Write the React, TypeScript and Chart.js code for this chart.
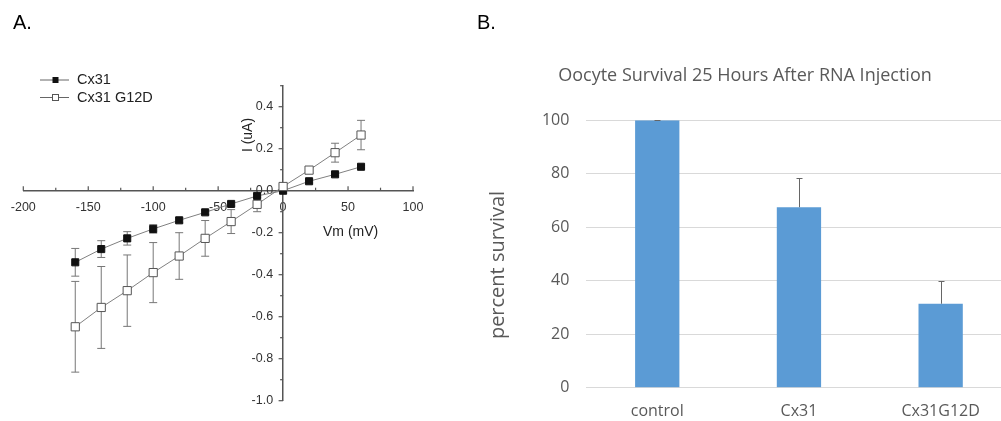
import React, { useEffect, useRef } from 'react';
import { Chart, registerables } from 'chart.js';

Chart.register(...registerables);

// ---------- Panel A data (I-V curves) ----------
const voltages = [-160, -140, -120, -100, -80, -60, -40, -20, 0, 20, 40, 60];
const cx31Current = [-0.341, -0.278, -0.227, -0.182, -0.141, -0.103, -0.063, -0.025, 0.0, 0.045, 0.078, 0.114];
const cx31Error = [0.066, 0.04, 0.032, 0.02, 0.012, 0.01, 0.01, 0.008, 0, 0.008, 0.006, 0.006];
const g12dCurrent = [-0.648, -0.556, -0.476, -0.39, -0.311, -0.227, -0.147, -0.065, 0.02, 0.098, 0.181, 0.265];
const g12dError = [0.216, 0.195, 0.17, 0.143, 0.111, 0.085, 0.057, 0.035, 0.01, 0.015, 0.045, 0.07];
const seriesNamesA = ['Cx31', 'Cx31 G12D'];

// ---------- Panel B data (survival) ----------
const groups = ['control', 'Cx31', 'Cx31G12D'];
const survival = [100, 67.5, 31.4];
const survivalError = [0, 10.8, 8.4];
const titleB = 'Oocyte Survival 25 Hours After RNA Injection';
const yTitleB = 'percent survival';

const fontA = '"Liberation Sans", Arial, sans-serif';
const fontB = '"Open Sans", sans-serif';

const yLabelA = (v: number) => {
  const r = Math.round(v * 10);
  return r % 2 === 0 ? (r / 10).toFixed(1) : '';
};

const panelAPlugin = {
  id: 'panelA',
  beforeDatasetsDraw(chart: any) {
    const { ctx, scales } = chart;
    const xs = scales.x;
    const ys = scales.y;
    const axisY = ys.getPixelForValue(0);
    const axisX = xs.getPixelForValue(0);
    ctx.save();
    ctx.strokeStyle = '#555';
    ctx.lineWidth = 1.2;
    // x tick marks (pointing up)
    xs.ticks.forEach((t: any) => {
      const px = xs.getPixelForValue(t.value);
      const major = Math.round(t.value) % 50 === 0;
      ctx.beginPath();
      ctx.moveTo(px, axisY);
      ctx.lineTo(px, axisY - (major ? 4.5 : 3));
      ctx.stroke();
    });
    // y tick marks (pointing left) and labels
    ctx.fillStyle = '#333';
    ctx.font = `12.5px ${fontA}`;
    ctx.textAlign = 'right';
    ctx.textBaseline = 'middle';
    ys.ticks.forEach((t: any) => {
      const py = ys.getPixelForValue(t.value);
      const major = Math.round(t.value * 10) % 2 === 0;
      ctx.beginPath();
      ctx.moveTo(axisX, py);
      ctx.lineTo(axisX - (major ? 4.5 : 3), py);
      ctx.stroke();
      const lbl = yLabelA(t.value);
      if (lbl) ctx.fillText(lbl, axisX - 10, py);
    });
    // error bars
    const errs = [cx31Error, g12dError];
    ctx.strokeStyle = '#777';
    ctx.lineWidth = 1;
    chart.data.datasets.forEach((ds: any, i: number) => {
      const meta = chart.getDatasetMeta(i);
      meta.data.forEach((el: any, j: number) => {
        const v = ds.data[j].y;
        const e = errs[i][j];
        if (!e) return;
        const x = el.x;
        const y1 = ys.getPixelForValue(v + e);
        const y2 = ys.getPixelForValue(v - e);
        ctx.beginPath();
        ctx.moveTo(x, y1);
        ctx.lineTo(x, y2);
        ctx.moveTo(x - 4, y1);
        ctx.lineTo(x + 4, y1);
        ctx.moveTo(x - 4, y2);
        ctx.lineTo(x + 4, y2);
        ctx.stroke();
      });
    });
    ctx.restore();
  },
  afterDraw(chart: any) {
    const { ctx } = chart;
    ctx.save();
    // panel label
    ctx.fillStyle = '#000';
    ctx.font = `20px ${fontA}`;
    ctx.textAlign = 'left';
    ctx.textBaseline = 'alphabetic';
    ctx.fillText('A.', 13, 29);
    // legend
    const rows = [80, 97.5];
    rows.forEach((ry, i) => {
      ctx.strokeStyle = '#666';
      ctx.lineWidth = 1;
      ctx.beginPath();
      ctx.moveTo(40, ry);
      ctx.lineTo(69, ry);
      ctx.stroke();
      if (i === 0) {
        ctx.fillStyle = '#111';
        ctx.fillRect(52.5, ry - 3, 6, 6);
      } else {
        ctx.fillStyle = '#fff';
        ctx.fillRect(52, ry - 3.5, 7, 7);
        ctx.strokeStyle = '#555';
        ctx.strokeRect(52.5, ry - 3, 6, 6);
      }
      ctx.fillStyle = '#222';
      ctx.font = `14.5px ${fontA}`;
      ctx.textBaseline = 'middle';
      ctx.fillText(seriesNamesA[i], 77, ry);
    });
    // axis titles
    ctx.fillStyle = '#222';
    ctx.font = `14px ${fontA}`;
    ctx.textBaseline = 'middle';
    ctx.textAlign = 'left';
    ctx.fillText('Vm (mV)', 323, 232);
    ctx.save();
    ctx.translate(248, 135);
    ctx.rotate(-Math.PI / 2);
    ctx.textAlign = 'center';
    ctx.fillText('I (uA)', 0, 0);
    ctx.restore();
    ctx.restore();
  },
};

const panelBPlugin = {
  id: 'panelB',
  afterDatasetsDraw(chart: any) {
    const { ctx, scales } = chart;
    const ys = scales.y;
    const meta = chart.getDatasetMeta(0);
    ctx.save();
    ctx.strokeStyle = '#666';
    ctx.lineWidth = 1;
    meta.data.forEach((el: any, j: number) => {
      const v = survival[j];
      const e = survivalError[j];
      const x = Math.round(el.x) + 0.5;
      const yb = ys.getPixelForValue(v);
      const yt = Math.round(ys.getPixelForValue(v + e)) + 0.5;
      ctx.beginPath();
      ctx.moveTo(x, yb);
      ctx.lineTo(x, yt);
      ctx.moveTo(x - 3, yt);
      ctx.lineTo(x + 3, yt);
      ctx.stroke();
    });
    ctx.restore();
  },
  afterDraw(chart: any) {
    const { ctx } = chart;
    ctx.save();
    ctx.fillStyle = '#000';
    ctx.font = `20px ${fontA}`;
    ctx.textAlign = 'left';
    ctx.textBaseline = 'alphabetic';
    ctx.fillText('B.', 37, 29);
    ctx.fillStyle = '#595959';
    ctx.font = `18px ${fontB}`;
    ctx.textAlign = 'center';
    ctx.textBaseline = 'middle';
    ctx.fillText(titleB, 305, 76);
    ctx.save();
    ctx.translate(58, 265);
    ctx.rotate(-Math.PI / 2);
    ctx.font = `20px ${fontB}`;
    ctx.fillText(yTitleB, 0, 0);
    ctx.restore();
    ctx.restore();
  },
};

function PanelA() {
  const ref = useRef<HTMLCanvasElement | null>(null);
  useEffect(() => {
    if (!ref.current) return;
    const chart = new Chart(ref.current, {
      type: 'scatter',
      data: {
        datasets: [
          {
            label: seriesNamesA[0],
            data: voltages.map((v, i) => ({ x: v, y: cx31Current[i] })),
            showLine: true,
            borderColor: '#808080',
            borderWidth: 1,
            pointStyle: 'rect',
            pointRadius: 5,
            pointBackgroundColor: '#111',
            pointBorderColor: '#111',
            pointBorderWidth: 1,
            order: 1,
          },
          {
            label: seriesNamesA[1],
            data: voltages.map((v, i) => ({ x: v, y: g12dCurrent[i] })),
            showLine: true,
            borderColor: '#808080',
            borderWidth: 1,
            pointStyle: 'rect',
            pointRadius: 5.8,
            pointBackgroundColor: '#fff',
            pointBorderColor: '#555',
            pointBorderWidth: 1,
            order: 0,
          },
        ] as any,
      },
      options: {
        animation: false,
        responsive: false,
        layout: { padding: { left: 23.3, right: 27, top: 85.7, bottom: 20.3 } },
        plugins: { legend: { display: false }, tooltip: { enabled: false } },
        scales: {
          x: {
            type: 'linear',
            min: -200,
            max: 100,
            position: { y: 0 } as any,
            ticks: {
              stepSize: 25,
              autoSkip: false,
              maxRotation: 0,
              padding: 9,
              color: '#333',
              font: { family: fontA, size: 12.5 },
              callback: (v: any) => (Math.round(v) % 50 === 0 ? String(v) : ''),
            },
            grid: { display: true, drawOnChartArea: false, drawTicks: false },
            border: { display: true, color: '#555', width: 1.5 },
          },
          y: {
            type: 'linear',
            min: -1.0,
            max: 0.5,
            position: { x: 0 } as any,
            ticks: {
              display: false,
              stepSize: 0.1,
              autoSkip: false,
              font: { family: fontA, size: 12.5 },
            },
            grid: { display: true, drawOnChartArea: false, drawTicks: false },
            border: { display: true, color: '#555', width: 1.5 },
          },
        },
      },
      plugins: [panelAPlugin],
    } as any);
    return () => chart.destroy();
  }, []);
  return (
    <canvas
      ref={ref}
      width={440}
      height={421}
      style={{ position: 'absolute', left: 0, top: 0, width: 440, height: 421 }}
    />
  );
}

function PanelB() {
  const ref = useRef<HTMLCanvasElement | null>(null);
  useEffect(() => {
    if (!ref.current) return;
    const chart = new Chart(ref.current, {
      type: 'bar',
      data: {
        labels: groups,
        datasets: [
          {
            label: yTitleB,
            data: survival,
            backgroundColor: '#5B9BD5',
            borderWidth: 0,
            barPercentage: 0.3126,
            categoryPercentage: 1,
          },
        ],
      },
      options: {
        animation: false,
        responsive: false,
        layout: { padding: { left: 0, right: 28.5, top: 120.3, bottom: 0 } },
        plugins: { legend: { display: false }, tooltip: { enabled: false } },
        scales: {
          x: {
            grid: { display: false, drawTicks: false },
            border: { display: true, color: '#d9d9d9', width: 1 },
            ticks: { padding: 14, color: '#595959', font: { family: fontB, size: 16 } },
            afterFit: (s: any) => {
              s.height = 33.3;
            },
          },
          y: {
            min: 0,
            max: 100,
            ticks: { stepSize: 20, padding: 17, color: '#595959', font: { family: fontB, size: 16 } },
            grid: { color: '#d9d9d9', drawTicks: false },
            border: { display: false },
            afterFit: (s: any) => {
              s.width = 146.4;
            },
          },
        },
      },
      plugins: [panelBPlugin],
    } as any);
    return () => chart.destroy();
  }, []);
  return (
    <div style={{ position: 'absolute', left: 440, top: 0, width: 561, height: 421, overflow: 'hidden' }}>
      <canvas ref={ref} width={600} height={421} style={{ width: 600, height: 421, display: 'block' }} />
    </div>
  );
}

export default function App() {
  return (
    <div style={{ position: 'absolute', left: 0, top: 0, width: 1001, height: 421, background: '#fff', overflow: 'hidden' }}>
      <PanelA />
      <PanelB />
    </div>
  );
}
